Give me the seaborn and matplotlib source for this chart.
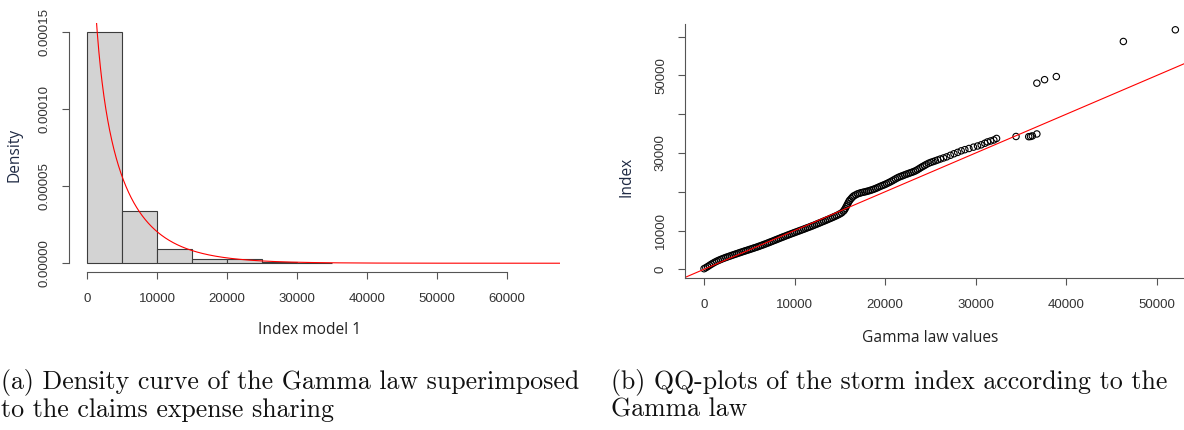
import math
import numpy as np
import pandas as pd
import matplotlib
matplotlib.use("Agg")
import matplotlib.pyplot as plt
import seaborn as sns

# ---------------------------------------------------------------- data
# (a) histogram of the storm index, density of each 5000-wide class
bin_edges = [0, 5000, 10000, 15000, 20000, 25000, 30000, 35000]
bin_density = [0.000150, 0.0000338, 0.0000091, 0.0000026, 0.0000030,
               0.0000010, 0.0000004]

# fitted Gamma law
gamma_shape = 0.65
gamma_scale = 6500.0

hist_xticks = [0, 10000, 20000, 30000, 40000, 50000, 60000]
hist_xticklabels = ["0", "10000", "20000", "30000", "40000", "50000", "60000"]
hist_yticks = [0.0, 0.00005, 0.00010, 0.00015]
hist_yticklabels = ["0.00000", "0.00005", "0.00010", "0.00015"]

# (b) QQ-plot: Gamma quantiles vs. sorted index
qq_gamma = [
    0, 200, 400, 600, 800, 1000, 1200, 1400, 1600, 1800, 2000, 2200, 2400,
    2600, 2800, 3000, 3200, 3400, 3600, 3800, 4000, 4200, 4400, 4600, 4800,
    5000, 5200, 5400, 5600, 5800, 6000, 6200, 6400, 6600, 6800, 7000, 7200,
    7400, 7600, 7800, 8000, 8200, 8400, 8600, 8800, 9000, 9200, 9400, 9600,
    9800, 10000, 10200, 10400, 10600, 10800, 11000, 11200, 11400, 11600,
    11800, 12000, 12200, 12400, 12600, 12800, 13000, 13200, 13400, 13600,
    13800, 14000, 14200, 14400, 14600, 14800, 15000, 15200, 15400,
    15500, 15600, 15700, 15800, 15900, 16000, 16100, 16250, 16400, 16550,
    16750, 16950, 17150, 17350, 17550, 17750, 17950, 18150, 18350, 18550,
    18750, 18950, 19150, 19350, 19550, 19750, 19950, 20150, 20350, 20550,
    20750, 20950, 21150, 21350, 21550, 21750, 21950, 22150, 22350, 22550,
    22750, 22950, 23150, 23350, 23550, 23750, 23950, 24150, 24350, 24550,
    24800, 25050, 25300, 25550, 25800, 26100, 26450, 26800, 27200, 27600,
    28000, 28400, 28800, 29250, 29750, 30200, 30600, 31000, 31300, 31650,
    32000, 32300, 34450, 35850, 36050, 36250, 36750, 36750, 37600, 38900,
    46300, 52040]
qq_index = [
    150, 415, 700, 1000, 1300, 1580, 1840, 2080, 2295, 2500, 2690, 2870, 3050,
    3210, 3375, 3540, 3700, 3855, 4015, 4180, 4335, 4485, 4640, 4795, 4945,
    5100, 5245, 5400, 5560, 5710, 5875, 6040, 6210, 6385, 6560, 6740, 6925,
    7110, 7295, 7485, 7670, 7855, 8045, 8230, 8410, 8590, 8770, 8950, 9125,
    9300, 9475, 9645, 9820, 9995, 10165, 10340, 10520, 10700, 10870,
    11050, 11235, 11420, 11615, 11810, 12000, 12195, 12390, 12580, 12780,
    12980, 13180, 13385, 13595, 13810, 14035, 14285, 14560, 15000,
    15300, 15700, 16150, 16600, 17050, 17500, 17850, 18250, 18650, 18950,
    19200, 19450, 19600, 19750, 19860, 19960, 20080, 20200, 20350, 20500,
    20670, 20850, 21050, 21270, 21470, 21660, 21850, 22070, 22300, 22530,
    22780, 23050, 23320, 23580, 23800, 23980, 24160, 24350, 24530, 24690,
    24860, 25020, 25200, 25400, 25660, 25950, 26250, 26520, 26780, 27050,
    27350, 27580, 27780, 27980, 28200, 28450, 28720, 29000, 29400, 29800,
    30150, 30550, 30850, 31150, 31500, 31800, 32100, 32500, 32850, 33100,
    33350, 33750, 34250, 34200, 34250, 34400, 34900, 48000, 48900, 49700,
    58750, 61760]

qq_xticks = [0, 10000, 20000, 30000, 40000, 50000]
qq_xticklabels = ["0", "10000", "20000", "30000", "40000", "50000"]
qq_yticks = [0, 10000, 20000, 30000, 40000, 50000, 60000]
qq_yticklabels = ["0", "10000", "", "30000", "", "50000", ""]

caption_a = ["(a) Density curve of the Gamma law superimposed",
             "to the claims expense sharing"]
caption_b = ["(b) QQ-plots of the storm index according to the",
             "Gamma law"]

# ---------------------------------------------------------------- style
sns.set_style("white")
plt.rcParams["font.family"] = ["Liberation Sans", "DejaVu Sans"]

W, H = 1184, 430
fig = plt.figure(figsize=(W / 100, H / 100), dpi=100)


def fx(px):
    return px / W


def fy(py):
    return 1 - py / H


tick_color = "#555555"
text_color = "#333333"
label_font = ["Open Sans", "DejaVu Sans"]


def style_axes(ax):
    for side in ("top", "right"):
        ax.spines[side].set_visible(False)
    for side in ("left", "bottom"):
        ax.spines[side].set_color(tick_color)
        ax.spines[side].set_linewidth(0.8)
    ax.tick_params(axis="both", which="major", direction="out", length=5,
                   width=0.8, color=tick_color, labelcolor=text_color,
                   labelsize=9.5, bottom=True, left=True, top=False,
                   right=False)
    ax.tick_params(axis="x", pad=10)
    ax.tick_params(axis="y", pad=8)


# ---------------------------------------------------------------- (a)
ax1 = fig.add_axes([fx(69), fy(272), fx(560) - fx(69), fy(23) - fy(272)])
edges = np.array(bin_edges, dtype=float)
mids = (edges[:-1] + edges[1:]) / 2
hist_df = pd.DataFrame({"index": mids, "density": bin_density})
sns.histplot(data=hist_df, x="index", weights="density", bins=bin_edges,
             stat="count", color="#D3D3D3", edgecolor="#3c3c3c",
             linewidth=0.8, alpha=1.0, ax=ax1)

x_lo, x_hi = -2580, 67600
xs = np.linspace(20, x_hi, 1500)
log_pdf = ((gamma_shape - 1) * np.log(xs) - xs / gamma_scale
           - math.lgamma(gamma_shape) - gamma_shape * math.log(gamma_scale))
curve_df = pd.DataFrame({"x": xs, "pdf": np.exp(log_pdf)})
sns.lineplot(data=curve_df, x="x", y="pdf", color="red", linewidth=0.8,
             ax=ax1)

ax1.set_xlim(x_lo, x_hi)
ax1.set_ylim(-0.0000057, 0.000156)
style_axes(ax1)
ax1.spines["left"].set_bounds(hist_yticks[0], hist_yticks[-1])
ax1.spines["bottom"].set_bounds(hist_xticks[0], hist_xticks[-1])
ax1.set_xticks(hist_xticks)
ax1.set_xticklabels(hist_xticklabels)
ax1.set_yticks(hist_yticks)
ax1.set_yticklabels(hist_yticklabels, rotation=90, va="center")
ax1.set_xlabel("Index model 1", family=label_font, fontsize=11.2,
               color="#222222", va="center")
ax1.set_ylabel("Density", family=label_font, fontsize=11.2,
               color="#1f2a44", va="center")
ax1.xaxis.set_label_coords(fx(309), fy(330), transform=fig.transFigure)
ax1.yaxis.set_label_coords(fx(15), fy(155), transform=fig.transFigure)

# ---------------------------------------------------------------- (b)
ax2 = fig.add_axes([fx(685), fy(278.3), fx(1194) - fx(685),
                    fy(24.3) - fy(278.3)])
qq_df = pd.DataFrame({"gamma": qq_gamma, "index": qq_index})
sns.scatterplot(data=qq_df, x="gamma", y="index", marker="o", s=21,
                facecolors="none", edgecolors="black", linewidths=0.8,
                ax=ax2)
ax2.axline((0, 0), slope=1, color="red", linewidth=0.8)
ax2.set_xlim(-2100, 54100)
ax2.set_ylim(-2320, 63180)
style_axes(ax2)
ax2.set_xticks(qq_xticks)
ax2.set_xticklabels(qq_xticklabels)
ax2.set_yticks(qq_yticks)
ax2.set_yticklabels(qq_yticklabels, rotation=90, va="center")
ax2.set_xlabel("Gamma law values", family=label_font, fontsize=11.2,
               color="#222222", va="center")
ax2.set_ylabel("Index", family=label_font, fontsize=11.2,
               color="#1f2a44", va="center")
ax2.xaxis.set_label_coords(fx(930), fy(338), transform=fig.transFigure)
ax2.yaxis.set_label_coords(fx(627), fy(177), transform=fig.transFigure)

# ---------------------------------------------------------------- captions
cap_kw = dict(family="cmr10", fontsize=18.6, color="#111111", va="center",
              ha="left")
fig.text(fx(1), fy(382), caption_a[0], **cap_kw)
fig.text(fx(1), fy(410), caption_a[1], **cap_kw)
fig.text(fx(611), fy(382), caption_b[0], **cap_kw)
fig.text(fx(611), fy(410), caption_b[1], **cap_kw)

fig.savefig("out.png", dpi=100)
